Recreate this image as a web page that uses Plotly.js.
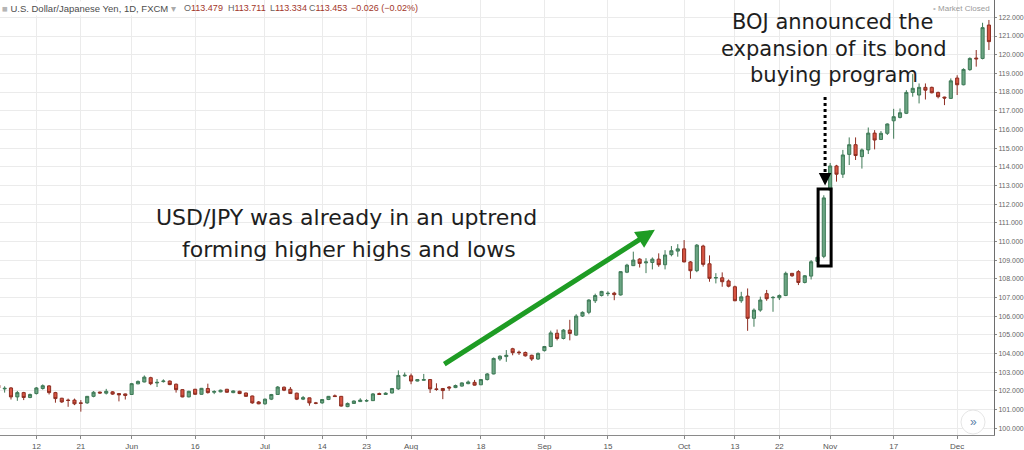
<!DOCTYPE html>
<html>
<head>
<meta charset="utf-8">
<script src="https://cdn.plot.ly/plotly-3.0.1.min.js"></script>
<style>html,body{margin:0;padding:0;background:#fff;}#chart{width:1024px;height:450px;}</style>
</head>
<body>
<div id="chart"></div>
<script>
// ---- data (USD/JPY daily, May 2 - Dec 8, 2014, weekdays) ----
const startDate = '2014-05-02';
const endDate = '2014-12-08';
const openV = [102.30,102.10,102.15,101.67,101.90,101.64,101.85,102.12,102.26,101.90,101.60,101.50,101.50,101.35,101.35,101.70,101.93,101.87,101.94,101.85,101.83,
101.80,102.37,102.47,102.70,102.42,102.49,102.52,102.35,102.06,101.67,102.08,101.81,102.12,101.92,101.94,102.08,101.90,101.97,101.88,101.72,101.40,
101.30,101.55,101.80,102.19,102.08,101.87,101.55,101.62,101.35,101.35,101.53,101.73,101.70,101.15,101.32,101.42,101.45,101.47,101.85,101.80,101.88,102.10,102.80,
102.80,102.52,102.56,102.60,102.10,102.12,102.20,102.17,102.25,102.38,102.45,102.32,102.60,102.90,103.70,103.83,104.25,104.07,104.05,103.90,103.70,
104.15,104.37,105.08,104.80,105.25,104.98,106.00,106.20,106.82,107.10,107.20,107.23,107.13,108.35,108.70,109.05,108.85,108.87,109.05,108.75,109.29,109.48,
109.60,108.90,108.43,109.75,108.80,108.04,108.05,107.88,107.57,106.82,107.07,105.88,106.32,107.20,106.98,106.98,107.10,108.29,108.38,107.80,108.14,108.93,109.20,
112.75,114.04,113.60,114.66,115.18,114.54,114.90,115.80,115.46,115.79,116.46,116.64,116.86,117.98,117.84,118.25,118.25,117.98,117.73,117.66,
118.75,118.39,119.20,119.82,119.80,121.59];
const highV = [102.45,102.24,102.20,101.99,101.94,101.85,102.20,102.34,102.30,101.94,101.62,101.58,101.58,101.50,101.72,101.98,101.95,102.10,101.98,101.88,101.85,
102.42,102.55,102.82,102.75,102.63,102.61,102.55,102.39,102.08,102.00,102.10,102.15,102.38,102.03,102.06,102.10,102.02,102.00,101.90,101.74,101.45,
101.58,101.83,102.25,102.23,102.20,101.90,101.72,101.63,101.40,101.55,101.72,101.80,101.72,101.37,101.48,101.60,101.55,101.88,101.90,101.92,102.15,103.09,102.98,
102.92,102.63,102.90,102.62,102.40,102.15,102.25,102.33,102.45,102.55,102.58,102.63,102.95,103.78,103.90,104.18,104.30,104.15,104.10,103.93,104.05,
104.40,105.22,105.28,105.30,105.80,106.10,106.25,106.90,107.20,107.35,107.33,107.30,108.40,108.80,109.45,109.10,109.10,109.14,109.36,109.53,109.75,109.85,
110.07,108.95,109.86,109.82,109.25,108.30,108.34,107.96,107.63,107.30,107.48,106.41,107.04,107.40,107.07,107.16,108.38,108.30,108.46,108.20,109.00,109.30,112.47,
114.20,114.10,114.90,115.57,115.57,114.98,116.10,115.96,115.91,116.32,117.10,117.12,118.10,118.96,118.46,118.46,118.29,118.02,117.75,118.73,
118.90,119.27,119.86,120.25,121.71,121.86];
const lowV = [102.10,101.90,101.53,101.46,101.50,101.60,101.80,102.06,101.80,101.36,101.35,101.14,101.23,100.88,101.30,101.65,101.85,101.80,101.78,101.43,101.53,
101.78,102.35,102.45,102.30,102.20,102.44,102.30,101.90,101.65,101.65,101.78,101.79,101.85,101.82,101.92,101.90,101.87,101.82,101.68,101.30,101.28,
101.25,101.50,101.78,101.98,101.83,101.50,101.50,101.20,101.28,101.30,101.50,101.67,101.15,101.12,101.30,101.40,101.40,101.45,101.78,101.78,101.86,102.05,102.75,
102.35,102.50,102.54,101.88,102.00,101.55,102.00,102.14,102.22,102.35,102.28,102.30,102.55,102.88,103.60,103.55,103.90,103.92,103.83,103.60,103.65,
104.10,104.33,104.70,104.75,104.70,104.95,105.95,106.10,106.70,107.05,107.07,106.85,107.10,108.30,108.68,108.60,108.30,108.50,108.64,108.50,109.20,109.18,
108.88,108.00,108.35,108.65,107.84,107.75,107.57,107.54,106.80,106.71,105.21,105.43,106.23,106.82,106.23,106.86,107.07,108.10,107.66,107.75,107.96,108.85,109.10,
112.70,113.20,113.40,114.09,114.36,113.90,114.68,114.93,115.43,115.70,115.50,116.59,116.82,117.75,117.39,117.60,117.93,117.66,117.30,117.63,
117.84,118.36,119.14,119.36,119.75,120.25];
const closeV = [102.15,102.13,101.67,101.90,101.64,101.80,102.15,102.27,101.90,101.58,101.40,101.48,101.30,101.33,101.70,101.92,101.88,101.97,101.82,101.78,101.75,
102.38,102.50,102.73,102.38,102.45,102.52,102.33,102.06,101.67,101.97,101.81,102.13,101.90,101.96,102.03,101.92,101.99,101.85,101.70,101.35,101.30,
101.55,101.80,102.20,102.03,101.85,101.55,101.63,101.35,101.33,101.53,101.70,101.69,101.18,101.32,101.45,101.50,101.47,101.83,101.80,101.87,102.12,102.82,102.83,
102.52,102.60,102.60,102.10,102.07,102.01,102.15,102.28,102.42,102.47,102.30,102.60,102.90,103.73,103.85,103.90,104.04,104.04,103.87,103.70,104.00,
104.37,105.10,104.80,105.25,105.07,106.00,106.20,106.86,107.10,107.32,107.22,107.15,108.38,108.73,109.00,108.82,108.90,109.05,108.75,109.27,109.50,109.60,
108.90,108.43,109.80,108.77,108.02,108.06,107.84,107.60,106.82,107.03,105.88,106.32,106.86,106.93,107.00,107.10,108.29,108.16,107.80,108.16,108.91,109.15,112.33,
114.04,113.60,114.63,115.18,114.60,114.90,115.80,115.43,115.79,116.29,116.68,116.89,117.98,118.20,118.25,118.10,117.96,117.75,117.68,118.60,
118.39,119.21,119.80,119.78,121.45,120.70];
const tickDates = ['2014-05-12','2014-05-21','2014-06-02','2014-06-16','2014-07-01','2014-07-14','2014-07-23','2014-08-01','2014-08-18','2014-09-01','2014-09-15','2014-10-01','2014-10-13','2014-10-22','2014-11-03','2014-11-17','2014-12-01'];
const tickLabels = ['12','21','Jun','16','Jul','14','23','Aug','18','Sep','15','Oct','13','22','Nov','17','Dec'];
const priceTicks = [100,101,102,103,104,105,106,107,108,109,110,111,112,113,114,115,116,117,118,119,120,121,122];

// weekday calendar
function weekdays(a, b) {
  const out = [];
  const d = new Date(a + 'T00:00:00Z');
  const e = new Date(b + 'T00:00:00Z');
  while (d <= e) {
    const w = d.getUTCDay();
    if (w !== 0 && w !== 6) out.push(d.toISOString().slice(0, 10));
    d.setUTCDate(d.getUTCDate() + 1);
  }
  return out;
}
const dates = weekdays(startDate, endDate);

// pixel helpers for annotation placement (plot area 994 x 435)
const PW = 994, PH = 435;
const px = v => v / PW;
const py = v => 1 - v / PH;

const trace = {
  type: 'candlestick',
  x: dates, open: openV, high: highV, low: lowV, close: closeV,
  increasing: {line: {color: '#3f7a57', width: 1}, fillcolor: '#6ba583'},
  decreasing: {line: {color: '#8e2e22', width: 1}, fillcolor: '#d75442'},
  whiskerwidth: 0,
  hoverinfo: 'skip',
  showlegend: false
};

const FONT = 'DejaVu Sans, Verdana, sans-serif';
const ann = [];
function txt(x, y, text, size, color, anchor, extra) {
  ann.push(Object.assign({xref: 'paper', yref: 'paper', x: px(x), y: py(y), text: text, showarrow: false,
    xanchor: anchor || 'center', yanchor: 'middle', font: {family: FONT, size: size, color: color || '#222'}}, extra || {}));
}
// main captions
txt(346, 218, 'USD/JPY was already in an uptrend', 22, '#1e1e1e');
txt(349, 250, 'forming higher highs and lows', 22, '#1e1e1e');
txt(832, 22, 'BOJ announced the', 21, '#1e1e1e');
txt(834, 49, 'expansion of its bond', 21, '#1e1e1e');
txt(834, 75, 'buying program', 21, '#1e1e1e');
// header
const HF = 'Arial, Liberation Sans, sans-serif';
ann.push({xref:'paper', yref:'paper', x: px(0), y: py(8), xanchor:'left', yanchor:'middle', showarrow:false,
  bgcolor:'#ffffff', borderpad:1,
  text: '<span style="color:#b5b5b5">■</span> U.S. Dollar/Japanese Yen, 1D, FXCM <span style="color:#aaa">▾</span>',
  font:{family:HF, size:9.5, color:'#4d4d4d'}});
const ohlc = [['O','113.479',182],['H','113.711',226],['L','113.334',268],['C','113.453',307]];
ohlc.forEach(o => ann.push({xref:'paper', yref:'paper', x: px(o[2]), y: py(8), xanchor:'left', yanchor:'middle', showarrow:false,
  text: '<span style="color:#666">' + o[0] + '</span>' + o[1], font:{family:HF, size:9, color:'#a2372a'}}));
ann.push({xref:'paper', yref:'paper', x: px(349), y: py(8), xanchor:'left', yanchor:'middle', showarrow:false,
  text:'−0.026 (−0.02%)', font:{family:HF, size:9, color:'#a2372a'}});
ann.push({xref:'paper', yref:'paper', x: px(992), y: py(8), xanchor:'right', yanchor:'middle', showarrow:false,
  text:'<span style="color:#bbb">•</span> Market Closed', font:{family:HF, size:8, color:'#9a9a9a'}});
// » button
ann.push({xref:'paper', yref:'paper', x: px(973), y: py(422), xanchor:'center', yanchor:'middle', showarrow:false,
  text:'»', font:{family:HF, size:12, color:'#5b7fa8'}});

// green arrow (data coordinates)
ann.push({xref:'x', yref:'y', axref:'x', ayref:'y', x: 103.4, y: 110.62, ax: 70.0, ay: 103.38, text:'', showarrow:true,
  arrowhead: 2, arrowsize: 0.75, arrowwidth: 5, arrowcolor:'#1e9c24', standoff: 0});
// dotted arrow head
ann.push({xref:'x', yref:'y', x: 130.2, y: 113.0, ax: 0, ay: -12, text:'', showarrow:true,
  arrowhead: 2, arrowsize: 1, arrowwidth: 2.5, arrowcolor:'#000', standoff: 0});

const shapes = [
  {type:'line', xref:'x', yref:'y', x0:130.2, x1:130.2, y0:117.73, y1:113.6, line:{color:'#000', width:3, dash:'3px,3px'}},
  {type:'rect', xref:'x', yref:'y', x0:129.1, x1:131.15, y0:108.68, y1:112.81, line:{color:'#000', width:3}, fillcolor:'rgba(0,0,0,0)'},
  {type:'circle', xref:'paper', yref:'paper', x0:px(961), x1:px(985), y0:py(434), y1:py(410), line:{color:'#e6e6e6', width:1}, fillcolor:'#ffffff', layer:'above'}
];

const layout = {
  width: 1024, height: 450,
  margin: {l: 0, r: 30, t: 0, b: 15, pad: 0},
  paper_bgcolor: '#ffffff', plot_bgcolor: '#ffffff',
  showlegend: false,
  dragmode: false,
  xaxis: {
    type: 'category', range: [0.27, 156.8],
    tickmode: 'array', tickvals: tickDates, ticktext: tickLabels,
    showgrid: true, gridcolor: '#ebebeb', gridwidth: 1,
    ticks: 'outside', ticklen: 3, tickcolor: '#888',
    showline: true, linecolor: '#8a8a8a', linewidth: 1,
    tickfont: {family: HF, size: 8, color: '#555'},
    rangeslider: {visible: false}, fixedrange: true, zeroline: false
  },
  yaxis: {
    side: 'right', range: [99.63, 122.93],
    tickmode: 'array', tickvals: priceTicks, tickformat: '.3f',
    showgrid: true, gridcolor: '#ebebeb', gridwidth: 1,
    ticks: 'outside', ticklen: 2, tickcolor: '#888',
    showline: true, linecolor: '#6e6e6e', linewidth: 1,
    tickfont: {family: HF, size: 7, color: '#666'},
    fixedrange: true, zeroline: false
  },
  annotations: ann,
  shapes: shapes
};

Plotly.newPlot('chart', [trace], layout, {displayModeBar: false, staticPlot: true});
</script>
</body>
</html>
